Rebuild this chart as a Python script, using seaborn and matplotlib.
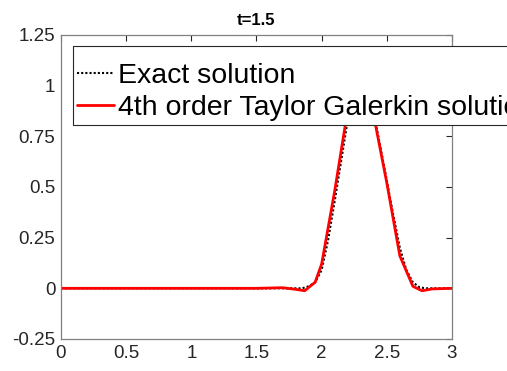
import numpy as np
import matplotlib
matplotlib.use('Agg')
import matplotlib.pyplot as plt
import seaborn as sns

# values
x_exact = [0.0, 1.5, 1.8, 1.85, 1.9, 1.95, 2.0, 2.05, 2.1, 2.15, 2.2, 2.25, 2.3, 2.35, 2.4,
           2.45, 2.5, 2.55, 2.6, 2.65, 2.7, 2.75, 2.8, 3.0]
y_exact = [0.0, 0.0, 0.0, 0.0, 0.01, 0.03, 0.09, 0.24, 0.43, 0.63, 0.83, 0.96, 1.0, 0.96, 0.86,
           0.7, 0.53, 0.36, 0.2, 0.09, 0.03, 0.005, 0.0, 0.0]

x_tg = [0.0, 1.5, 1.7, 1.8, 1.87, 1.95, 2.0, 2.1, 2.2, 2.3, 2.4, 2.5, 2.6, 2.7, 2.77, 2.85, 3.0]
y_tg = [0.0, 0.0, 0.003, -0.005, -0.012, 0.03, 0.12, 0.48, 0.88, 1.0, 0.85, 0.52, 0.16, 0.01,
        -0.012, -0.003, 0.0]

x_ticks = [0, 0.5, 1, 1.5, 2, 2.5, 3]
y_ticks = [-0.25, 0, 0.25, 0.5, 0.75, 1, 1.25]

sns.set_style('white')
plt.rcParams['font.family'] = ['Liberation Sans', 'DejaVu Sans']

fig = plt.figure(figsize=(5.07, 3.71), dpi=100)
ax = fig.add_axes([0.1203, 0.0863, 0.7712, 0.8194])

sns.lineplot(x=x_exact, y=y_exact, ax=ax, color='black', linestyle=(0, (1, 1)), linewidth=1.5,
             label='Exact solution')
sns.lineplot(x=x_tg, y=y_tg, ax=ax, color='red', linewidth=2,
             label='4th order Taylor Galerkin solution')

ax.set_xlim(0, 3)
ax.set_ylim(-0.25, 1.25)
ax.set_xticks(x_ticks)
ax.set_xticklabels(['0', '0.5', '1', '1.5', '2', '2.5', '3'])
ax.set_yticks(y_ticks)
ax.set_yticklabels(['-0.25', '0', '0.25', '0.5', '0.75', '1', '1.25'])
ax.tick_params(direction='in', length=4, width=0.8, color='#262626', labelsize=13.5,
               labelcolor='#262626', top=True, right=True, pad=4)
for s in ax.spines.values():
    s.set_color('#808080')
    s.set_linewidth(0.9)

ax.set_title('t=1.5', fontsize=12, fontweight='bold', pad=7, color='black')

# blank small title gives the extra top padding MATLAB legends have
leg = ax.legend(loc='upper left', bbox_to_anchor=(0.031, 0.964), borderaxespad=0,
                fontsize=20.5, frameon=True, fancybox=False, handlelength=1.3,
                handletextpad=0.12, labelspacing=0.2, borderpad=0.15,
                title=' ', title_fontsize=5, labelcolor='black')
leg.get_frame().set_edgecolor('#262626')
leg.get_frame().set_linewidth(0.8)
leg.get_frame().set_alpha(1)

fig.savefig('out.png', dpi=100)
